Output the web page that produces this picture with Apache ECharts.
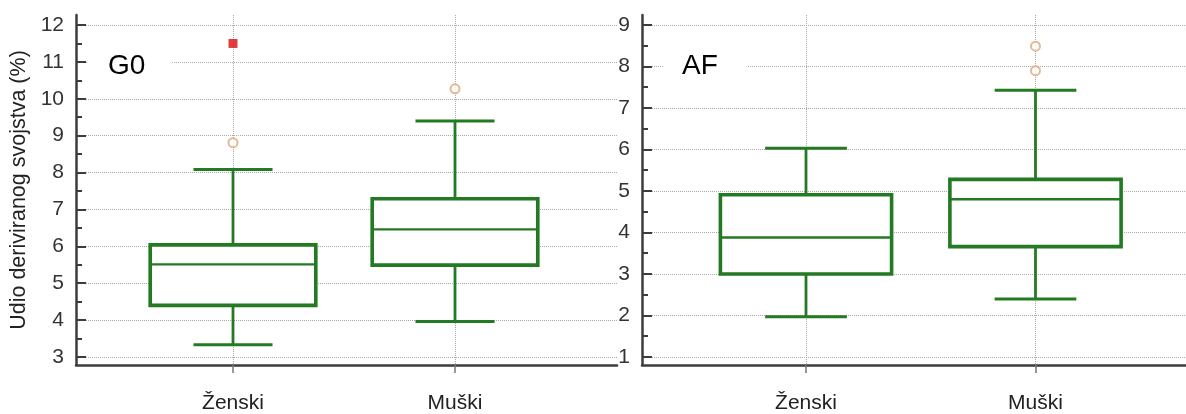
<!DOCTYPE html>
<html><head><meta charset="utf-8">
<script src="https://cdn.jsdelivr.net/npm/echarts@6/dist/echarts.min.js"></script>
<style>html,body{margin:0;padding:0;background:#fff}#c{width:1186px;height:414px}</style>
</head><body><div id="c"></div>
<script>
const categories = ['Ženski', 'Muški'];
const panelNames = ['G0', 'AF'];
const yTitle = 'Udio deriviranog svojstva (%)';
// [low whisker, Q1, median, Q3, high whisker]
const g0Stats = [[3.33, 4.40, 5.51, 6.04, 8.08], [3.96, 5.49, 6.46, 7.29, 9.40]];
const g0Outliers = [[0, 8.81], [1, 10.27]];
const g0FarOutliers = [[0, 11.50]];
const afStats = [[1.97, 3.00, 3.88, 4.91, 6.03], [2.40, 3.66, 4.80, 5.28, 7.43]];
const afOutliers = [[1, 7.90], [1, 8.49]];
const afFarOutliers = [];
const g0Ticks = [3, 4, 5, 6, 7, 8, 9, 10, 11, 12];
const g0MinorTicks = [3.5, 4.5, 5.5, 6.5, 7.5, 8.5, 9.5, 10.5, 11.5];
const afTicks = [1, 2, 3, 4, 5, 6, 7, 8, 9];
const afMinorTicks = [1.5, 2.5, 3.5, 4.5, 5.5, 6.5, 7.5, 8.5];

const FONT = "'Liberation Sans', Arial, sans-serif";
const GREEN = '#237a23';
const AXIS = '#3c3c3c';
const GRIDC = '#a8a8a8';

function renderBox(params, api) {
  const x = api.value(0);
  const low = api.coord([x, api.value(1)]);
  const q1 = api.coord([x, api.value(2)]);
  const med = api.coord([x, api.value(3)]);
  const q3 = api.coord([x, api.value(4)]);
  const high = api.coord([x, api.value(5)]);
  const unit = api.size([1, 0])[0];
  const hw = unit * 0.373, cw = unit * 0.178;
  const cx = med[0];
  const ls = w => ({ stroke: GREEN, lineWidth: w, fill: null });
  return {
    type: 'group', children: [
      { type: 'line', shape: { x1: cx, y1: q3[1], x2: cx, y2: high[1] }, style: ls(2.8) },
      { type: 'line', shape: { x1: cx, y1: q1[1], x2: cx, y2: low[1] }, style: ls(2.8) },
      { type: 'line', shape: { x1: cx - cw, y1: high[1], x2: cx + cw, y2: high[1] }, style: ls(3) },
      { type: 'line', shape: { x1: cx - cw, y1: low[1], x2: cx + cw, y2: low[1] }, style: ls(3) },
      { type: 'rect', shape: { x: cx - hw, y: q3[1], width: 2 * hw, height: q1[1] - q3[1] },
        style: { fill: '#fff', stroke: GREEN, lineWidth: 3.6 } },
      { type: 'line', shape: { x1: cx - hw, y1: med[1], x2: cx + hw, y2: med[1] }, style: ls(2.4) }
    ]
  };
}

function xAxisDef(gridIndex, min, max) {
  return {
    type: 'value', gridIndex, min, max,
    axisLine: { show: true, onZero: false, lineStyle: { color: AXIS, width: 2.5 } },
    axisTick: { show: true, inside: false, length: 8, customValues: [1, 2], lineStyle: { color: '#777', width: 1.5 } },
    axisLabel: { customValues: [1, 2], formatter: v => categories[Math.round(v) - 1], margin: 28,
      fontSize: 21, color: '#222', fontFamily: FONT },
    splitLine: { show: true, lineStyle: { type: 'dotted', color: GRIDC, width: 1 } }
  };
}
function yMajor(gridIndex, min, max, ticks, titled) {
  return {
    type: 'value', gridIndex, min, max, position: 'left',
    name: titled ? yTitle : '', nameLocation: 'middle', nameGap: 46,
    nameTextStyle: { fontSize: 21.5, color: '#222', fontFamily: FONT },
    axisLine: { show: true, onZero: false, lineStyle: { color: AXIS, width: 2.5 } },
    axisTick: { show: true, inside: true, length: 10, customValues: ticks, lineStyle: { color: AXIS, width: 2 } },
    axisLabel: { customValues: ticks, margin: 12, fontSize: 21, color: '#333', fontFamily: FONT },
    splitLine: { show: true, lineStyle: { type: 'dotted', color: GRIDC, width: 1 } }
  };
}
function yMinor(gridIndex, min, max, ticks) {
  return {
    type: 'value', gridIndex, min, max, position: 'left', offset: 0,
    axisLine: { show: false },
    axisTick: { show: true, inside: true, length: 6, customValues: ticks, lineStyle: { color: AXIS, width: 2 } },
    axisLabel: { show: false },
    splitLine: { show: false }
  };
}
const toXY = arr => arr.map(d => [d[0] + 1, d[1]]);

const option = {
  animation: false,
  backgroundColor: '#fff',
  title: [
    { text: panelNames[0], left: 87, top: 48, padding: [4, 27, 4, 21], backgroundColor: '#fff',
      textStyle: { fontSize: 28, fontWeight: 'normal', color: '#000', fontFamily: FONT } },
    { text: panelNames[1], left: 663, top: 48, padding: [4, 29, 4, 19], backgroundColor: '#fff',
      textStyle: { fontSize: 28, fontWeight: 'normal', color: '#000', fontFamily: FONT } }
  ],
  grid: [
    { left: 76, right: 569, top: 15, bottom: 49 },
    { left: 642, right: 0, top: 15, bottom: 49 }
  ],
  xAxis: [xAxisDef(0, 0.2928, 2.7297), xAxisDef(1, 0.2854, 2.6558)],
  yAxis: [
    yMajor(0, 2.783, 12.271, g0Ticks, true),
    yMinor(0, 2.783, 12.271, g0MinorTicks),
    yMajor(1, 0.807, 9.241, afTicks, false),
    yMinor(1, 0.807, 9.241, afMinorTicks)
  ],
  series: [
    { type: 'custom', xAxisIndex: 0, yAxisIndex: 0, renderItem: renderBox, encode: { x: 0, y: [1, 2, 3, 4, 5] },
      data: g0Stats.map((s, i) => [i + 1, ...s]), z: 3 },
    { type: 'scatter', xAxisIndex: 0, yAxisIndex: 0, symbol: 'emptyCircle', symbolSize: 9,
      itemStyle: { color: '#e0a878', borderColor: '#dc9c6c', borderWidth: 1.5 }, data: toXY(g0Outliers), z: 4 },
    { type: 'scatter', xAxisIndex: 0, yAxisIndex: 0, symbol: 'rect', symbolSize: 9,
      itemStyle: { color: '#d80e0e' }, data: toXY(g0FarOutliers), z: 4 },
    { type: 'custom', xAxisIndex: 1, yAxisIndex: 2, renderItem: renderBox, encode: { x: 0, y: [1, 2, 3, 4, 5] },
      data: afStats.map((s, i) => [i + 1, ...s]), z: 3 },
    { type: 'scatter', xAxisIndex: 1, yAxisIndex: 2, symbol: 'emptyCircle', symbolSize: 9,
      itemStyle: { color: '#e0a878', borderColor: '#dc9c6c', borderWidth: 1.5 }, data: toXY(afOutliers), z: 4 },
    { type: 'scatter', xAxisIndex: 1, yAxisIndex: 2, symbol: 'rect', symbolSize: 9,
      itemStyle: { color: '#d80e0e' }, data: toXY(afFarOutliers), z: 4 }
  ]
};
const chart = echarts.init(document.getElementById('c'), null, { renderer: 'canvas' });
chart.setOption(option);
</script>
</body></html>
